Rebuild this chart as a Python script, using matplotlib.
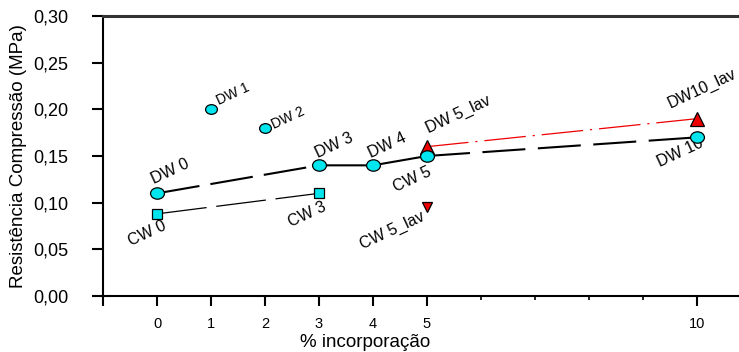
import matplotlib
matplotlib.use("Agg")
import matplotlib.pyplot as plt
import numpy as np
from matplotlib.path import Path

plt.rcParams['font.family'] = ['Liberation Sans', 'DejaVu Sans']
plt.rcParams['lines.scale_dashes'] = False

# series data (% incorporation vs compressive strength, MPa)
dw_x = [0, 3, 4, 5, 10]
dw_y = [0.11, 0.14, 0.14, 0.15, 0.17]
dw_lbl = ["DW 0", "DW 3", "DW 4", "CW 5", "DW 10"]

dw_single_x = [1, 2]
dw_single_y = [0.20, 0.18]
dw_single_lbl = ["DW 1", "DW 2"]

cw_x = [0, 3]
cw_y = [0.088, 0.11]
cw_lbl = ["CW 0", "CW 3"]

lav_x = [5, 10]
lav_y = [0.16, 0.19]
lav_lbl = ["DW 5_lav", "DW10_lav"]

cw_lav_x = [5]
cw_lav_y = [0.095]
cw_lav_lbl = ["CW 5_lav"]

xticks = [-1, 0, 1, 2, 3, 4, 5, 10]
xticklabels = ["", "0", "1", "2", "3", "4", "5", "10"]
yticks = [0.00, 0.05, 0.10, 0.15, 0.20, 0.25, 0.30]

W, H = 739, 352
fig = plt.figure(figsize=(W / 100, H / 100), dpi=100)
ax = fig.add_axes([103 / W, 56 / H, 648 / W, 280 / H])
ax.set_xlim(-1, 11)
ax.set_ylim(0, 0.30)

# slightly flattened circle marker
uc = Path.unit_circle()
ell = Path(uc.vertices * np.array([1.0, 0.82]), uc.codes)

cyan = "#00e5ee"
red = "#ee0000"

# DW main curve: dashed 0-3, solid 3-5, dashed 5-10
ax.plot(dw_x[0:2], dw_y[0:2], color="black", lw=1.5, dashes=(31, 8), zorder=2)
ax.plot(dw_x[1:4], dw_y[1:4], color="black", lw=1.5, zorder=2)
ax.plot(dw_x[3:5], dw_y[3:5], color="black", lw=1.5, dashes=(31, 9), zorder=2)

# CW curve
ax.plot(cw_x, cw_y, color="black", lw=0.9, dashes=(36, 7), zorder=2)

# washed DW curve (dash-dot red)
ax.plot(lav_x, lav_y, color=red, lw=0.9, dashes=(30, 5, 1.5, 5), zorder=2)

ax.plot(dw_x, dw_y, ls="none", marker=ell, ms=10, mfc=cyan, mec="black", mew=0.9, zorder=4)
ax.plot(dw_single_x, dw_single_y, ls="none", marker=ell, ms=8.5, mfc=cyan, mec="black", mew=0.9, zorder=4)
ax.plot(cw_x, cw_y, ls="none", marker="s", ms=7, mfc=cyan, mec="black", mew=0.9, zorder=4)
ax.plot(lav_x, lav_y, ls="none", marker="^", ms=10, mfc=red, mec="black", mew=0.9, zorder=3)
ax.plot(cw_lav_x, cw_lav_y, ls="none", marker="v", ms=7.5, mfc=red, mec="black", mew=0.9, zorder=4)

rot = 25
def label(xs, ys, texts, offsets, size=11.5):
    for x, y, t, off in zip(xs, ys, texts, offsets):
        ax.annotate(t, (x, y), xytext=off, textcoords="offset pixels",
                    ha="center", va="center", rotation=rot, fontsize=size,
                    color="black", annotation_clip=False, zorder=3.5)

label(dw_x, dw_y, dw_lbl, [(13, 22), (15, 20), (14, 20), (-15, -23), (-17, -15)])
label(dw_single_x, dw_single_y, dw_single_lbl, [(22, 15), (23, 10)], size=10)
label(cw_x, cw_y, cw_lbl, [(-10, -20), (-12, -21)])
label(lav_x, lav_y, lav_lbl, [(31, 32), (5, 30)])
label(cw_lav_x, cw_lav_y, cw_lav_lbl, [(-35, -23)])

ax.set_xticks(xticks)
ax.set_xticklabels(xticklabels)
ax.set_xticks([6, 7, 8, 9], minor=True)
ax.set_yticks(yticks)
ax.set_yticklabels([f"{v:.2f}".replace(".", ",") for v in yticks])

ax.tick_params(axis="y", which="major", direction="out", length=8, width=1.5,
               color="black", labelsize=13, pad=17)
ax.tick_params(axis="x", which="major", direction="out", length=7, width=1.5,
               color="black", pad=8, labelsize=10.5)
ax.tick_params(axis="x", which="minor", direction="out", length=3, width=1.2)

ax.spines["right"].set_visible(False)
for s in ("left", "bottom"):
    ax.spines[s].set_linewidth(1.5)
    ax.spines[s].set_color("black")
ax.spines["top"].set_linewidth(2.2)
ax.spines["top"].set_color("#333333")

ax.set_ylabel("Resistência Compressão (MPa)", fontsize=13.5)
ax.yaxis.set_label_coords(-0.117, 0.5)
ax.set_xlabel("% incorporação", fontsize=13.5)
ax.xaxis.set_label_coords((365 - 103) / 648, -0.135)

fig.savefig("out.png", dpi=100)
